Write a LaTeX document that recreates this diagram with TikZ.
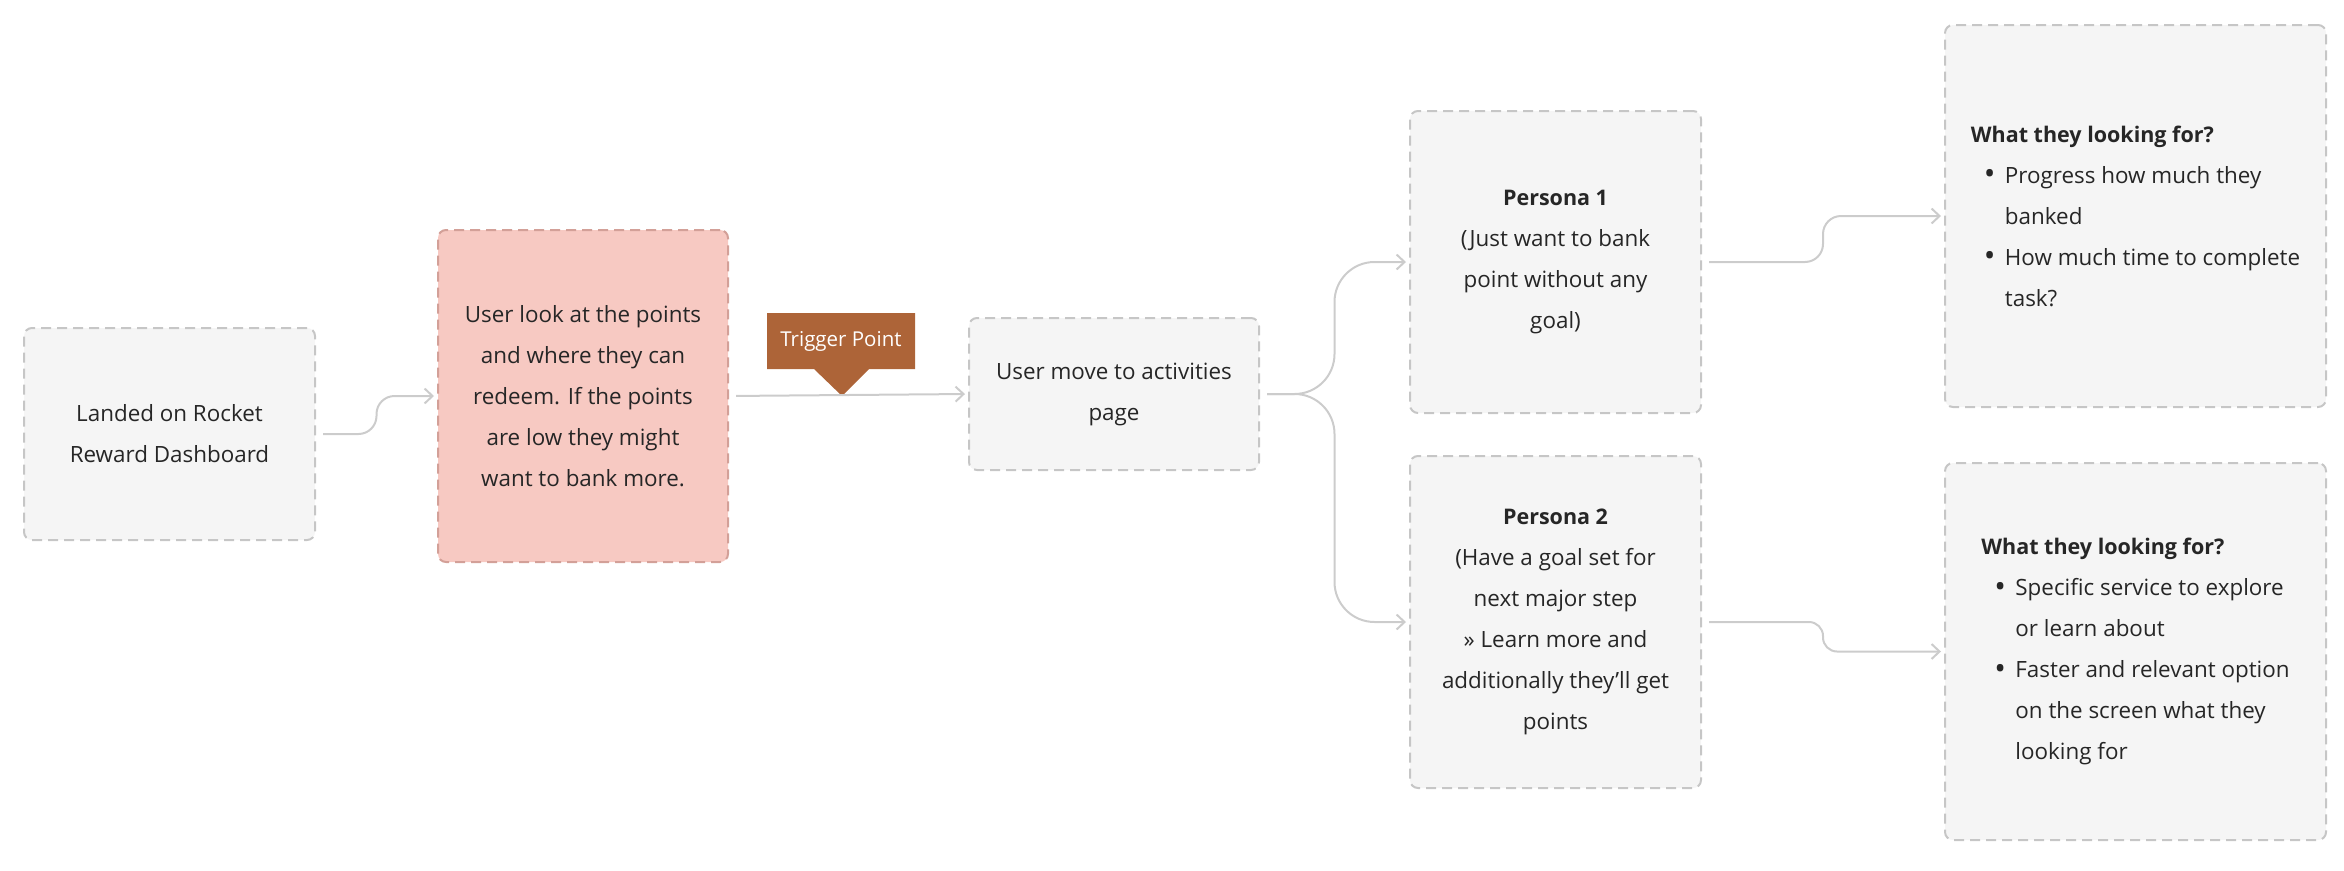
\documentclass[tikz,border=0pt]{standalone}
\usepackage{fontspec}
\setmainfont{Open Sans}
\usepackage{tikz}
\usetikzlibrary{shapes.callouts, arrows.meta, calc}
\definecolor{boxfill}{HTML}{F5F5F5}
\definecolor{boxline}{HTML}{C6C6C6}
\definecolor{pinkfill}{HTML}{F7C9C2}
\definecolor{pinkline}{HTML}{D3A098}
\definecolor{linkgray}{HTML}{CCCCCC}
\definecolor{tagbrown}{HTML}{AD6438}
\definecolor{ink}{HTML}{262626}
\tikzstyle{arrow} = [draw=linkgray, line width=2pt, -{Straight Barb[length=8pt,width=15pt]}, shorten <=7pt, shorten >=3pt]
\newcommand{\bulitem}{\hspace*{13pt}\makebox[21pt][l]{\raisebox{-1.5pt}{\fontsize{31}{31}\selectfont\textbullet}}}
\newcommand{\bulrest}{\hspace*{34pt}}
\newcommand{\headtxt}[1]{{\fontsize{21.5}{41}\selectfont\textbf{#1}}}

\begin{document}
\begin{tikzpicture}
[x=1pt, y=-1pt,
flowbox/.style={rectangle, draw=boxline, fill=boxfill, line width=2pt, dash pattern=on 10pt off 6pt, rounded corners=8pt, text=ink, align=center, inner sep=0pt, font=\fontsize{22.4}{41}\selectfont},
pinkbox/.style={flowbox, draw=pinkline, fill=pinkfill},
needbox/.style={flowbox, align=left},
tagbox/.style={rectangle callout, fill=tagbrown, text=white, minimum width=148pt, minimum height=56pt, inner sep=0pt, callout pointer width=55pt, font=\fontsize{20.5}{24}\selectfont}]
\useasboundingbox (0,0) rectangle (2344,870);

\node[flowbox, minimum width=291pt, minimum height=212pt] (land) at (169.5,434) {Landed on Rocket\\Reward Dashboard};
\node[pinkbox, minimum width=290pt, minimum height=332pt] (look) at (583,396) {User look at the points\\and where they can\\redeem. If the points\\are low they might\\want to bank more.};
\node[flowbox, minimum width=290pt, minimum height=152pt] (move) at (1114,394) {User move to activities\\page};
\node[flowbox, minimum width=291pt, minimum height=302pt] (pers1) at (1555.5,262) {\headtxt{Persona 1}\\(Just want to bank\\point without any\\goal)};
\node[flowbox, minimum width=291pt, minimum height=332pt] (pers2) at (1555.5,622) {\headtxt{Persona 2}\\(Have a goal set for\\next major step\\» Learn more and\\additionally they’ll get\\points};
\node[needbox, minimum width=381pt, minimum height=382pt] (need1) at (2135.5,216) {\headtxt{What they looking for?}\\\bulitem Progress how much they\\\bulrest banked\\\bulitem How much time to complete\\\bulrest task?};
\node[needbox, minimum width=381pt, minimum height=377pt] (need2) at (2135.5,651.5) {\headtxt{What they looking for?}\\\bulitem Specific service to explore\\\bulrest or learn about\\\bulitem Faster and relevant option\\\bulrest on the screen what they\\\bulrest looking for};

\coordinate (tip) at (842,396);
\node[tagbox, callout absolute pointer=(tip)] (trigger) at (841,341) {Trigger Point};

\coordinate (s1) at ($(land.east)!0.5!(look.west)$);
\coordinate (s2) at ($(move.east)!0.5!(pers1.west)$);
\coordinate (s3) at ($(pers1.east)!0.5!(need1.west)$);
\coordinate (s4) at ($(pers2.east)!0.5!(need2.west)$);

\draw[arrow, rounded corners=18pt] (land.east) -- (s1 |- land.east) -- (s1 |- look.west) -- (look.west);
\draw[arrow] (look.east) -- (move.west);
\draw[arrow, rounded corners=40pt] (move.east) -- (s2 |- move.east) -- (s2 |- pers1.west) -- (pers1.west);
\draw[arrow, rounded corners=40pt] (move.east) -- (s2 |- move.east) -- (s2 |- pers2.west) -- (pers2.west);
\draw[arrow, rounded corners=18pt] (pers1.east) -- (s3 |- pers1.east) -- (s3 |- need1.west) -- (need1.west);
\draw[arrow, rounded corners=14pt] (pers2.east) -- (s4 |- pers2.east) -- (s4 |- need2.west) -- (need2.west);
\end{tikzpicture}
\end{document}
